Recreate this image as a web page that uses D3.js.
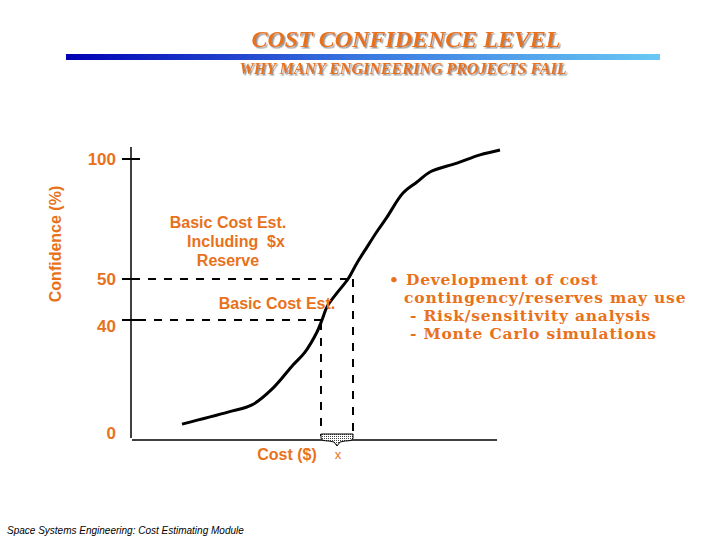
<!DOCTYPE html>
<html>
<head>
<meta charset="utf-8">
<script src="https://cdn.jsdelivr.net/npm/d3@7"></script>
<style>
body { margin: 0; background: #fff; }
.orange { fill: #e8721c; }
.tick-label { font-family: Arial, "Liberation Sans", sans-serif; font-weight: bold; font-size: 17px; fill: #e8721c; text-anchor: end; }
.note { font-family: Arial, "Liberation Sans", sans-serif; font-weight: bold; font-size: 16px; fill: #e8721c; }
.bullet { font-family: "DejaVu Serif", serif; font-weight: bold; font-size: 15.5px; letter-spacing: 0.8px; fill: #e8721c; }
</style>
</head>
<body>
<script>
// cost in arbitrary units, confidence in %
var cost = [50, 96, 120, 141, 161, 173, 185, 190, 195, 205, 216, 225, 235, 246, 255, 271, 285, 298, 325, 348, 368];
var confidence = [5.3, 9.3, 11.7, 17.3, 25, 29.3, 36, 40, 43.2, 46.6, 50, 56.7, 63.3, 70.4, 75.8, 85.8, 90.4, 94.6, 98.3, 101.7, 103.75];
var yTicks = [0, 40, 50, 100];
var basicCost = 189;      // cost at 40 %
var reserveCost = 221;    // basic cost plus reserve
var bulletLines = ["\u2022 Development of cost", "contingency/reserves may use", "- Risk/sensitivity analysis", "- Monte Carlo simulations"];

var svg = d3.select("body").append("svg")
    .attr("width", 720).attr("height", 540);

var defs = svg.append("defs");
var grad = defs.append("linearGradient").attr("id", "bar");
grad.append("stop").attr("offset", "0%").attr("stop-color", "#0000b4");
grad.append("stop").attr("offset", "50%").attr("stop-color", "#3a78e0");
grad.append("stop").attr("offset", "100%").attr("stop-color", "#68c8f4");

var pat = defs.append("pattern").attr("id", "dots")
    .attr("width", 2).attr("height", 2).attr("patternUnits", "userSpaceOnUse");
pat.append("rect").attr("width", 2).attr("height", 2).attr("fill", "#fff");
pat.append("rect").attr("width", 1).attr("height", 1).attr("fill", "#444");

var shadow = defs.append("filter").attr("id", "shadow");
shadow.append("feDropShadow").attr("dx", 1.5).attr("dy", 1.5).attr("stdDeviation", 0.4)
    .attr("flood-color", "#999");

// header
svg.append("rect").attr("x", 66).attr("y", 54).attr("width", 594).attr("height", 6)
    .attr("fill", "url(#bar)");
svg.append("text").attr("x", 406).attr("y", 47)
    .attr("text-anchor", "middle").attr("class", "orange")
    .attr("filter", "url(#shadow)")
    .style("font-family", "'Liberation Serif', 'Times New Roman', serif")
    .style("font-style", "italic").style("font-weight", "bold").style("font-size", "24px")
    .attr("textLength", 309).attr("lengthAdjust", "spacingAndGlyphs")
    .text("COST CONFIDENCE LEVEL");
svg.append("text").attr("x", 403).attr("y", 74)
    .attr("text-anchor", "middle").attr("class", "orange")
    .attr("filter", "url(#shadow)")
    .style("font-family", "'Liberation Serif', 'Times New Roman', serif")
    .style("font-style", "italic").style("font-weight", "bold").style("font-size", "16px")
    .attr("textLength", 327).attr("lengthAdjust", "spacingAndGlyphs")
    .text("WHY MANY ENGINEERING PROJECTS FAIL");

// scales (the y axis of the original is not to scale)
var x = d3.scaleLinear().domain([0, 365]).range([132, 497]);
var y = d3.scaleLinear().domain([0, 40, 50, 100]).range([440, 320, 279, 159]);

// axes
svg.append("line").attr("x1", 131).attr("x2", 131).attr("y1", 147).attr("y2", 438)
    .attr("stroke", "#000").attr("stroke-width", 1.5);
svg.append("line").attr("x1", x(0)).attr("x2", 497).attr("y1", 440).attr("y2", 440)
    .attr("stroke", "#000").attr("stroke-width", 1.5);

svg.selectAll(".tickmark").data(yTicks.filter(function (d) { return d > 0; }))
    .enter().append("line")
    .attr("x1", 122).attr("x2", 140)
    .attr("y1", function (d) { return y(d); }).attr("y2", function (d) { return y(d); })
    .attr("stroke", "#000").attr("stroke-width", 2);

svg.selectAll(".tick-label").data(yTicks)
    .enter().append("text")
    .attr("class", "tick-label")
    .attr("x", 116)
    .attr("y", function (d) { return d === 0 ? y(d) - 1 : d === 40 ? y(d) + 12 : y(d) + 6; })
    .text(function (d) { return d; });

svg.append("text")
    .attr("transform", "translate(61,244) rotate(-90)")
    .attr("text-anchor", "middle").attr("class", "note")
    .text("Confidence (%)");

// dashed guide lines
function dashed(x1, y1, x2, y2) {
    svg.append("line").attr("x1", x1).attr("y1", y1).attr("x2", x2).attr("y2", y2)
        .attr("stroke", "#000").attr("stroke-width", 2).attr("stroke-dasharray", "8,8");
}
dashed(x(0), y(50), x(reserveCost), y(50));
dashed(x(0) + 6, y(40), x(basicCost), y(40));
dashed(x(reserveCost), y(50), x(reserveCost), 436);
dashed(x(basicCost), y(40) + 2, x(basicCost), 436);

// reserve wedge
var x1 = x(basicCost), x2 = x(reserveCost), xm = (x1 + x2) / 2;
svg.append("path")
    .attr("d", "M" + x1 + ",434 L" + x2 + ",434 L" + x2 + ",438 Q" + x2 + ",441 " + (x2 - 8) + ",441 L" + (xm + 3) + ",442 L" + xm + ",446 L" + (xm - 3) + ",442 L" + (x1 + 8) + ",441 Q" + x1 + ",441 " + x1 + ",438 Z")
    .attr("fill", "url(#dots)").attr("stroke", "#000").attr("stroke-width", 1);

// curve
var pts = cost.map(function (c, i) { return [c, confidence[i]]; });
svg.append("path").datum(pts)
    .attr("d", d3.line().x(function (d) { return x(d[0]); }).y(function (d) { return y(d[1]); })
        .curve(d3.curveCatmullRom.alpha(0.5)))
    .attr("fill", "none").attr("stroke", "#000").attr("stroke-width", 3);

// annotations
var ann = svg.append("text").attr("class", "note").attr("text-anchor", "middle");
ann.append("tspan").attr("x", 228).attr("y", 228).text("Basic Cost Est.");
ann.append("tspan").attr("x", 236).attr("y", 247).text("Including\u00a0 $x");
ann.append("tspan").attr("x", 228).attr("y", 266).text("Reserve");
svg.append("text").attr("class", "note").attr("x", 277).attr("y", 309)
    .attr("text-anchor", "middle").text("Basic Cost Est.");
svg.append("text").attr("class", "note").attr("x", 287).attr("y", 460)
    .attr("text-anchor", "middle").text("Cost ($)");
svg.append("text").attr("class", "note").attr("x", 338).attr("y", 459)
    .attr("text-anchor", "middle").style("font-size", "13px").style("font-weight", "normal").text("x");

// bullet list
var bx = [389, 404, 410, 410], by = [285, 303, 321, 339];
svg.selectAll(".bullet").data(bulletLines).enter().append("text")
    .attr("class", "bullet")
    .attr("x", function (d, i) { return bx[i]; })
    .attr("y", function (d, i) { return by[i]; })
    .text(function (d) { return d; });

// footer
svg.append("text").attr("x", 7).attr("y", 534)
    .style("font-family", "Arial, 'Liberation Sans', sans-serif")
    .style("font-style", "italic").style("font-size", "10px")
    .text("Space Systems Engineering: Cost Estimating Module");
</script>
</body>
</html>
